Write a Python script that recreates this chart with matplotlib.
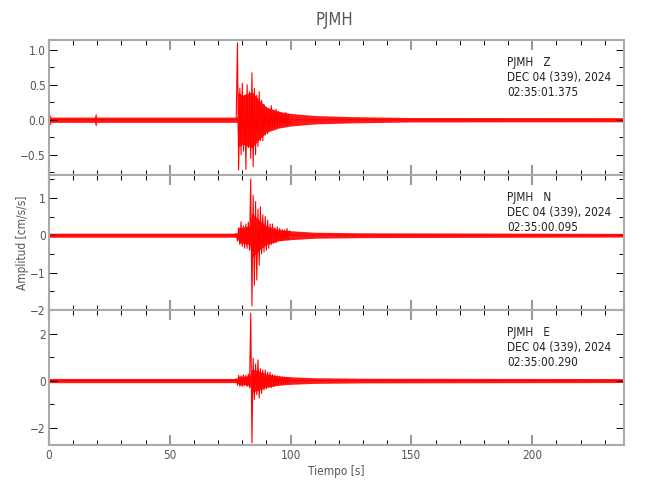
import matplotlib
matplotlib.use("Agg")
import matplotlib.pyplot as plt
import numpy as np
from matplotlib.ticker import MultipleLocator, FuncFormatter


STATION    = "PJMH"
CHANNELS   = ["Z", "N", "E"]
DATE_LABEL = "DEC 04 (339), 2024"
START_TIMES = ["02:35:01.375", "02:35:00.095", "02:35:00.290"]
T_END      = 238.0

# strong-motion part: signed peak amplitudes, one every BURST_DT seconds from BURST_T0
BURST_T0 = 77.5
BURST_DT = 0.5

z_peaks = [0.03, 1.10, -0.72, 0.45, -0.50, 0.52, -0.45, 0.35, -0.71, 0.50,
           -0.40, 0.40, -0.55, 0.67, -0.67, 0.45, -0.50, 0.35, -0.38, 0.40,
           -0.30, 0.28, -0.30, 0.22, -0.22, 0.18, -0.20, 0.15, -0.14, 0.20,
           -0.12, 0.14, -0.12, 0.15, -0.10, 0.12, -0.10, 0.10, -0.09, 0.09,
           -0.08, 0.10, -0.08, 0.08, -0.07]
n_peaks = [0.05, -0.15, 0.20, -0.25, 0.36, -0.30, 0.25, -0.35, 0.30, -0.35,
           0.35, -0.40, 1.50, -1.89, 1.07, -1.34, 0.90, -1.20, 0.70, -0.80,
           0.76, -0.50, 0.55, -0.45, 0.50, -0.40, 0.40, -0.35, 0.30, -0.25,
           0.30, -0.22, 0.20, -0.20, 0.22, -0.15, 0.18, -0.15, 0.15, -0.12,
           0.14, -0.12, 0.18, -0.12, 0.12]
e_peaks = [0.08, -0.20, 0.22, -0.25, 0.20, -0.25, 0.25, -0.20, 0.22, -0.25,
           0.28, -0.30, 2.87, -2.65, 0.95, -0.80, 0.70, -0.60, 0.88, -0.75,
           0.50, -0.55, 0.45, -0.40, 0.45, -0.35, 0.35, -0.30, 0.35, -0.30,
           0.25, -0.25, 0.22, -0.20, 0.20, -0.18, 0.18, -0.15, 0.15, -0.15,
           0.14, -0.13, 0.13, -0.12, 0.12]

# half-width of the dense trace band (noise, burst core, coda)
z_band_t   = [0, 0.8, 1.2, 18.8, 19.3, 19.8, 77.9, 78.1, 80, 84, 87, 90, 95, 100, 110, 125, 150, T_END]
z_band_amp = [0.10, 0.04, 0.038, 0.038, 0.10, 0.038, 0.038, 0.40, 0.35, 0.40, 0.28, 0.18,
              0.12, 0.09, 0.06, 0.045, 0.032, 0.03]
n_band_t   = [0, 77.9, 78.5, 83, 84, 87, 90, 95, 100, 110, 130, T_END]
n_band_amp = [0.055, 0.055, 0.20, 0.25, 0.60, 0.40, 0.25, 0.15, 0.12, 0.08, 0.065, 0.05]
e_band_t   = [0, 77.9, 78.5, 83, 84, 87, 90, 95, 100, 110, 130, T_END]
e_band_amp = [0.09, 0.09, 0.18, 0.20, 0.50, 0.40, 0.28, 0.20, 0.16, 0.12, 0.10, 0.085]

y_limits    = [(-0.79, 1.14), (-2.0, 1.61), (-2.74, 3.0)]
y_major     = [0.5, 1.0, 2.0]
y_minor     = [0.25, 0.5, 1.0]
y_formats   = ["{:.1f}", "{:.0f}", "{:.0f}"]

FRAME_GRAY = "#aaaaaa"
TEXT_GRAY  = "#555555"
RED        = "#ff0000"

plt.rcParams["font.family"] = ["DejaVu Sans"]
plt.rcParams["font.stretch"] = "condensed"


def minus_formatter(fmt):
    return FuncFormatter(lambda v, pos: fmt.format(v + 0.0).replace("-", "\u2212"))


def main():
    fig = plt.figure(figsize=(6.5, 5.0), dpi=100)

    peaks = [z_peaks, n_peaks, e_peaks]
    bands = [(z_band_t, z_band_amp), (n_band_t, n_band_amp), (e_band_t, e_band_amp)]

    left, width = 49 / 650, 575 / 650
    tops = [40, 175, 310]
    height = 135 / 500

    axes = []
    for i in range(3):
        ax = fig.add_axes([left, 1 - (tops[i] + 135) / 500, width, height])
        axes.append(ax)

        bt, ba = bands[i]
        ba = np.array(ba)
        ax.fill_between(bt, -ba, ba, color=RED, lw=0, alpha=0.9)

        pt = BURST_T0 + BURST_DT * np.arange(len(peaks[i]))
        t = np.concatenate([[0.0, BURST_T0 - BURST_DT], pt, [pt[-1] + BURST_DT, T_END]])
        y = np.concatenate([[0.0, 0.0], peaks[i], [0.0, 0.0]])
        ax.plot(t, y, color=RED, lw=0.8)

        ax.set_xlim(0, T_END)
        ax.set_ylim(*y_limits[i])

        ax.xaxis.set_major_locator(MultipleLocator(50))
        ax.xaxis.set_minor_locator(MultipleLocator(10))
        ax.yaxis.set_major_locator(MultipleLocator(y_major[i]))
        ax.yaxis.set_minor_locator(MultipleLocator(y_minor[i]))
        ax.yaxis.set_major_formatter(minus_formatter(y_formats[i]))

        ax.tick_params(axis="x", which="major", direction="in", top=True, bottom=True,
                       length=7, width=1.5, color="#999999", labelsize=8.5,
                       labelcolor=TEXT_GRAY, pad=3)
        ax.tick_params(axis="x", which="minor", direction="in", top=True, bottom=True,
                       length=3.5, width=0.7, color="black")
        ax.tick_params(axis="y", which="major", direction="in", left=True, right=True,
                       length=6, width=0.7, color="black", labelsize=8.5,
                       labelcolor=TEXT_GRAY, pad=2.5)
        ax.tick_params(axis="y", which="minor", direction="in", left=True, right=True,
                       length=3.5, width=0.7, color="black")
        if i < 2:
            ax.tick_params(axis="x", which="both", labelbottom=False)

        for sp in ax.spines.values():
            sp.set_color(FRAME_GRAY)
            sp.set_linewidth(1.5)

        ax.text(0.797, 0.885, f"{STATION}   {CHANNELS[i]}\n{DATE_LABEL}\n{START_TIMES[i]}",
                transform=ax.transAxes, ha="left", va="top", fontsize=8.5,
                color="#222222", linespacing=1.2)

    fig.text(0.515, 0.96, STATION, ha="center", va="center", fontsize=12, color=TEXT_GRAY)
    axes[2].set_xlabel("Tiempo [s]", fontsize=8.5, color=TEXT_GRAY, labelpad=2)
    fig.text(0.034, 0.515, "Amplitud [cm/s/s]", rotation=90, ha="center", va="center",
             fontsize=8.5, color=TEXT_GRAY)

    fig.savefig("out.png", dpi=100)


if __name__ == "__main__":
    main()
